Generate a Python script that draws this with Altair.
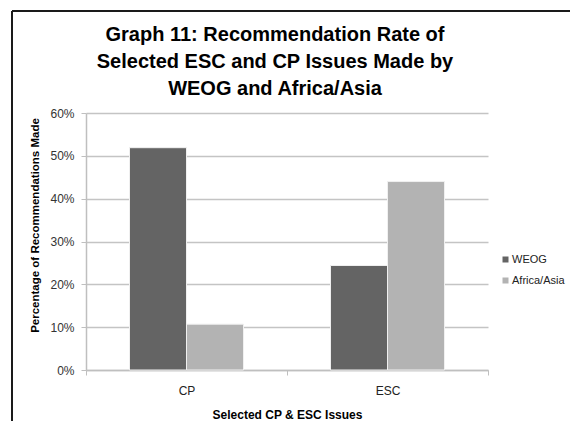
import altair as alt
import pandas as pd

categories = ["CP", "ESC"]
groups = ["WEOG", "Africa/Asia"]
weog = [0.519, 0.244]
africa_asia = [0.107, 0.44]
y_ticks = [0, 0.1, 0.2, 0.3, 0.4, 0.5, 0.6]
colors = ["#646464", "#b3b3b3"]
title_lines = ["Graph 11: Recommendation Rate of",
               "Selected ESC and CP Issues Made by",
               "WEOG and Africa/Asia"]

rows = []
for i, c in enumerate(categories):
    rows.append({"issue": c, "group": groups[0], "value": weog[i]})
    rows.append({"issue": c, "group": groups[1], "value": africa_asia[i]})
df = pd.DataFrame(rows)

FONT = "Liberation Sans"

bars = alt.Chart(df).mark_bar(stroke="#f0f0f0", strokeWidth=1).encode(
    x=alt.X("issue:N", sort=categories,
            scale=alt.Scale(paddingInner=0, paddingOuter=0),
            axis=alt.Axis(title="Selected CP & ESC Issues", labelAngle=0,
                          tickBand="extent", tickSize=5, tickColor="#bfbfbf",
                          domainColor="#bfbfbf", domainWidth=1.5,
                          labelPadding=10, labelFontSize=12, labelColor="#222",
                          titleFontSize=12, titleFontWeight="bold",
                          titleY=44, titleBaseline="middle", grid=False)),
    xOffset=alt.XOffset("group:N", sort=groups,
                        scale=alt.Scale(paddingInner=0, paddingOuter=0.763)),
    y=alt.Y("value:Q",
            scale=alt.Scale(domain=[0, 0.6], nice=False),
            axis=alt.Axis(title="Percentage of Recommendations Made",
                          values=y_ticks, format=".0%",
                          tickSize=5, tickColor="#bfbfbf",
                          domainColor="#bfbfbf", domainWidth=1.5,
                          gridColor="#c4c4c4", gridWidth=1.5,
                          labelPadding=7, labelFontSize=12, labelColor="#333",
                          titleFontSize=11.5, titleFontWeight="bold",
                          titleAngle=270, titleX=-51, titleY=112,
                          titleAlign="center", titleBaseline="middle")),
    color=alt.Color("group:N", sort=groups,
                    scale=alt.Scale(domain=groups, range=colors),
                    legend=alt.Legend(title=None, orient="none",
                                      legendX=414, legendY=141,
                                      symbolType="square", symbolSize=36,
                                      symbolStrokeWidth=0, rowPadding=9,
                                      labelFontSize=11, labelColor="#222",
                                      labelOffset=1, labelLimit=200)),
)

frame_data = alt.Data(values=[{"k": 1}])
frame_top = alt.Chart(frame_data).mark_rule(color="#1a1a1a", strokeWidth=2).encode(
    x=alt.value(-74), x2=alt.value(490), y=alt.value(-102))
frame_left = alt.Chart(frame_data).mark_rule(color="#1a1a1a", strokeWidth=2).encode(
    x=alt.value(-74), y=alt.value(-102), y2=alt.value(320))

title_text = alt.Chart(alt.Data(values=[{"t": "\n".join(title_lines)}])).mark_text(
    font=FONT, fontSize=20, fontWeight="bold", color="#000",
    lineBreak="\n", lineHeight=27, align="center", baseline="top"
).encode(text="t:N", x=alt.value(189), y=alt.value(-88))

chart = alt.layer(bars, frame_top, frame_left, title_text).properties(
    width=402, height=257,
    autosize=alt.AutoSizeParams(type="none"),
    padding={"left": 78, "top": 105, "right": 82, "bottom": 51},
    background="white",
).configure(font=FONT).configure_view(stroke=None)

chart.save("out.html", embed_options={"renderer": "svg", "actions": False})
